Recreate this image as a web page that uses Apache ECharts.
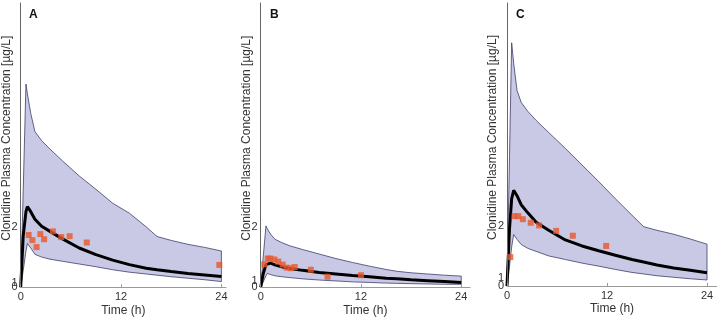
<!DOCTYPE html>
<html>
<head>
<meta charset="utf-8">
<script src="https://cdn.jsdelivr.net/npm/echarts@6/dist/echarts.min.js"></script>
<style>
  html, body { margin: 0; padding: 0; background: #fff; }
  #chart { width: 717px; height: 318px; }
</style>
</head>
<body>
<div id="chart"></div>
<script>
// panel labels
var panels = ['A', 'B', 'C'];

// simulated time grid (h)
var timeA = [0, 0.3, 0.63, 0.8, 1.2, 1.7, 2.5, 3.5, 5, 7, 9, 11, 13, 15, 16.3, 18, 20, 22, 24];
var timeB = [0, 0.3, 0.63, 0.8, 1.2, 1.7, 2.5, 3.5, 5, 7, 9, 11, 13, 15, 16.3, 18, 20, 22, 24];
var timeC = [0, 0.3, 0.56, 0.8, 1.2, 1.7, 2.5, 3.5, 5, 7, 9, 11, 13, 15, 16.4, 18, 20, 22, 24];

// upper bound of prediction band
var upperA = [0, 3.2, 6.72, 6.4, 5.75, 5.15, 4.85, 4.57, 4.18, 3.68, 3.24, 2.78, 2.45, 2.0, 1.68, 1.55, 1.42, 1.32, 1.2];
var upperB = [0, 1.0, 2.03, 1.93, 1.75, 1.59, 1.48, 1.37, 1.25, 1.1, 0.95, 0.82, 0.7, 0.59, 0.53, 0.48, 0.44, 0.4, 0.37];
var upperC = [0, 4.3, 8.08, 7.4, 6.5, 6.1, 5.8, 5.5, 5.1, 4.57, 4.02, 3.47, 2.9, 2.35, 1.97, 1.85, 1.72, 1.56, 1.39];

// lower bound of prediction band
var lowerA = [0, 0.55, 1.2, 1.45, 1.3, 1.09, 1.0, 0.93, 0.86, 0.77, 0.68, 0.58, 0.5, 0.44, 0.4, 0.35, 0.3, 0.25, 0.19];
var lowerB = [0, 0.18, 0.38, 0.46, 0.42, 0.38, 0.35, 0.32, 0.28, 0.24, 0.21, 0.18, 0.16, 0.14, 0.13, 0.12, 0.11, 0.1, 0.1];
var lowerC = [0, 0.65, 1.3, 1.71, 1.55, 1.38, 1.25, 1.15, 1.0, 0.88, 0.76, 0.66, 0.55, 0.45, 0.4, 0.34, 0.29, 0.24, 0.2];

// median prediction
var medianA = [0, 1.7, 2.5, 2.67, 2.5, 2.25, 2.02, 1.85, 1.6, 1.3, 1.08, 0.9, 0.75, 0.63, 0.58, 0.52, 0.46, 0.41, 0.36];
var medianB = [0, 0.45, 0.75, 0.8, 0.8, 0.74, 0.68, 0.62, 0.56, 0.49, 0.44, 0.39, 0.35, 0.3, 0.28, 0.25, 0.22, 0.19, 0.16];
var medianC = [0, 1.9, 2.9, 3.18, 3.0, 2.7, 2.43, 2.12, 1.85, 1.53, 1.33, 1.17, 1.02, 0.88, 0.8, 0.7, 0.6, 0.52, 0.44];

// observed data
var obsTimeA = [0.95, 1.4, 1.9, 2.35, 2.8, 3.85, 4.85, 5.85, 7.9, 23.75];
var obsConcA = [1.73, 1.56, 1.33, 1.76, 1.59, 1.85, 1.66, 1.69, 1.48, 0.74];
var obsTimeB = [0.43, 0.84, 1.15, 1.63, 2.1, 2.63, 3.1, 3.6, 4.07, 6.0, 8.0, 12.0];
var obsConcB = [0.76, 0.95, 0.95, 0.92, 0.85, 0.75, 0.65, 0.63, 0.67, 0.58, 0.35, 0.4];
var obsTimeC = [0.4, 0.9, 1.35, 1.9, 2.85, 3.85, 5.9, 7.9, 11.9];
var obsConcC = [0.96, 2.32, 2.32, 2.22, 2.1, 2.01, 1.83, 1.67, 1.33];

// axis ticks
var xTicks = [0, 12, 24];
var yTickMain = [0, 2];
var yTickMainLabels = ['0', '2'];
var yTickOne = [0.15, 0.2, 0.27];   // where the "1" label sits in each panel

var times = [timeA, timeB, timeC];
var uppers = [upperA, upperB, upperC];
var lowers = [lowerA, lowerB, lowerC];
var medians = [medianA, medianB, medianC];
var obsT = [obsTimeA, obsTimeB, obsTimeC];
var obsC = [obsConcA, obsConcB, obsConcC];

var fontFam = '"Liberation Sans", Arial, sans-serif';
var bandColor = '#c9c9e6';
var edgeColor = '#3d3d6b';

function pairs(xs, ys) {
    var out = [];
    for (var i = 0; i < xs.length; i++) out.push([xs[i], ys[i]]);
    return out;
}

var grids = [
    {left: 20.7, width: 205.3, top: 3, bottom: 30.7, outerBoundsMode: 'none', containLabel: false},
    {left: 260.7, width: 209.3, top: 3, bottom: 30.7, outerBoundsMode: 'none', containLabel: false},
    {left: 507, width: 210, top: 3, bottom: 32, outerBoundsMode: 'none', containLabel: false}
];
var xMax = [24.55, 25.05, 25.2];
var yMax = 9.4;

var titles = [], xAxes = [], yAxes = [], series = [];
var titleLeft = [24, 265, 511];

panels.forEach(function (p, i) {
    titles.push({
        text: p, left: titleLeft[i], top: 4,
        textStyle: {fontFamily: fontFam, fontSize: 12, fontWeight: 'bold', color: '#111'}
    });
    xAxes.push({
        gridIndex: i, type: 'value', min: 0, max: xMax[i],
        name: 'Time (h)', nameLocation: 'middle', nameGap: 17, nameMoveOverlap: false,
        nameTextStyle: {fontFamily: fontFam, fontSize: 12, color: '#333'},
        axisLine: {lineStyle: {color: '#999', width: 1}},
        axisTick: {inside: true, length: 3, lineStyle: {color: '#999'}, customValues: xTicks},
        axisLabel: {fontFamily: fontFam, fontSize: 11, color: '#333', margin: 4, customValues: xTicks},
        splitLine: {show: false},
        z: 10
    });
    // main y axis: line, name, "0" and "2"
    yAxes.push({
        gridIndex: i, type: 'value', min: 0, max: yMax, position: 'left',
        name: 'Clonidine Plasma Concentration [µg/L]', nameLocation: 'middle',
        nameGap: 8, nameMoveOverlap: false,
        nameTextStyle: {fontFamily: fontFam, fontSize: 12, color: '#333', padding: [0, 0, 0, 14]},
        axisLine: {show: true, lineStyle: {color: '#666', width: 1}},
        axisTick: {show: false},
        axisLabel: {
            fontFamily: fontFam, fontSize: 11, color: '#333', margin: 3,
            customValues: yTickMain, showMinLabel: true,
            formatter: function (v) {
                var k = yTickMain.indexOf(v);
                return k >= 0 ? yTickMainLabels[k] : '';
            }
        },
        splitLine: {show: false},
        z: 10
    });
    // helper axis carrying only the squeezed "1" label
    yAxes.push({
        gridIndex: i, type: 'value', min: 0, max: yMax, position: 'left', offset: 0,
        axisLine: {show: false},
        axisTick: {show: false},
        axisLabel: {
            fontFamily: fontFam, fontSize: 11, color: '#333', margin: 3,
            customValues: [yTickOne[i]],
            formatter: function () { return '1'; }
        },
        splitLine: {show: false}
    });

    var t = times[i];
    var last = t.length - 1;
    var yi = i * 2;
    series.push({
        type: 'line', xAxisIndex: i, yAxisIndex: yi, z: 1,
        data: pairs(t, uppers[i]), symbol: 'none', silent: true,
        lineStyle: {color: edgeColor, width: 0.8},
        areaStyle: {color: bandColor, opacity: 1}
    });
    series.push({
        type: 'line', xAxisIndex: i, yAxisIndex: yi, z: 2,
        data: pairs(t, lowers[i]), symbol: 'none', silent: true,
        lineStyle: {color: edgeColor, width: 0.8},
        areaStyle: {color: '#fff', opacity: 1}
    });
    series.push({
        type: 'line', xAxisIndex: i, yAxisIndex: yi, z: 3,
        data: [[t[last], uppers[i][last]], [t[last], lowers[i][last]]],
        symbol: 'none', silent: true,
        lineStyle: {color: edgeColor, width: 0.8}
    });
    series.push({
        type: 'line', xAxisIndex: i, yAxisIndex: yi, z: 4,
        data: pairs(t, medians[i]), symbol: 'none', silent: true,
        lineStyle: {color: '#000', width: 3}
    });
    series.push({
        type: 'scatter', xAxisIndex: i, yAxisIndex: yi, z: 5,
        data: pairs(obsT[i], obsC[i]), symbol: 'rect', symbolSize: 6,
        itemStyle: {color: '#e8582a'}
    });
});

var chart = echarts.init(document.getElementById('chart'), null, {renderer: 'canvas'});
chart.setOption({
    animation: false,
    backgroundColor: '#fff',
    title: titles,
    grid: grids,
    xAxis: xAxes,
    yAxis: yAxes,
    series: series
});
</script>
</body>
</html>
